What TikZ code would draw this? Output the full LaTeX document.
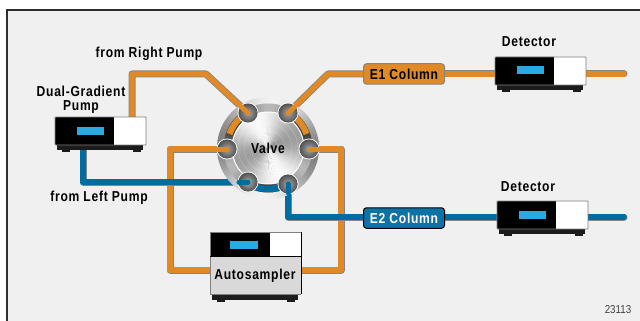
\documentclass[tikz,border=0pt]{standalone}
\usepackage{fontspec}
\setmainfont{Liberation Sans}[FakeStretch=0.84,LetterSpace=5]
\newfontfamily\numfont{Liberation Sans}[FakeStretch=0.85]
\definecolor{tuborange}{HTML}{DF8A26}
\definecolor{tubblue}{HTML}{006C9F}
\definecolor{tubedge}{HTML}{858585}
\definecolor{bgpanel}{HTML}{F0F0F0}
\definecolor{screen}{HTML}{29ABE2}
\definecolor{baseblk}{HTML}{1C1C1C}
\tikzset{
 x=1pt,y=-1pt,
 lbl/.style={font=\fontsize{14.4}{13.5}\selectfont\bfseries,text=black,inner sep=0,align=center},
 tubeo/.style={line join=round,line cap=round,draw=tubedge,line width=7pt,
   postaction={draw=tuborange,line width=5.4pt}},
 tubeb/.style={line join=round,line cap=round,draw=tubedge,line width=7pt,
   postaction={draw=tubblue,line width=5.4pt}},
 colbox/.style={rounded corners=3pt,draw=#1,line width=1pt,minimum width=81pt,minimum height=20.5pt,inner sep=0,
   font=\fontsize{14.4}{13.5}\selectfont\bfseries},
 inst/.pic={
  \fill[baseblk] (2,28)--(88,28)--(88,33)--(2,33)--cycle;
  \fill[baseblk] (7,33) rectangle (15,35);
  \fill[baseblk] (78,33) rectangle (86,35);
  \fill[black,rounded corners=1pt] (0,0) rectangle (60,28);
  \fill[white] (59,0) rectangle (91,28);
  \draw[gray,line width=.8pt,rounded corners=.5pt] (0,0) rectangle (91,28);
  \fill[screen] (21.5,9.5) rectangle (49,17.5);
 }
}
% brushed-metal disc: radius, base grey, swing, number of lobes, lobe angle (as seen)
\newcommand{\metaldisc}[5]{%
  \foreach \a in {0,4,...,356} {%
    \pgfmathsetmacro{\vv}{#2-#3*cos(#4*(-\a-#5))}%
    \fill[black!\vv] (c) -- +(\a:#1) arc[start angle=\a,delta angle=4.8,radius=#1] -- cycle;%
  }%
}
\begin{document}
\begin{tikzpicture}
\useasboundingbox (0,0) rectangle (640,321);
\fill[white] (0,0) rectangle (640,321);
\fill[bgpanel] (7,10) rectangle (640,321);
\draw[line width=2.4pt,draw=black!82] (7,321) -- (7,10) -- (640,10);

% port coordinates
\coordinate (p1) at (248,113);
\coordinate (p2) at (288,113);
\coordinate (p3) at (227,149);
\coordinate (p4) at (309,149);
\coordinate (p5) at (248,182);
\coordinate (p6) at (288,184);
\coordinate (c) at (268,148);

% tubes behind
\coordinate (pumpT) at (132,118);
\coordinate (pumpB) at (83,148);
\coordinate (asL) at (212,270);
\coordinate (asR) at (300,270);
\coordinate (e1a) at (365,74);
\coordinate (e2a) at (365,217);
\draw[tubeo] (asL) -- (170,270) -- (170,149) -- (p3);
\draw[tubeb] (pumpB) -- (83,182) -- (p5);
\draw[tubeo] (pumpT) -- (132,74) -- (206,74) -- (p1);
\draw[tubeo] (asR) -- (341,270) -- (341,149) -- (p4);
\draw[tubeo] (p2) -- (328,74) -- (e1a);
\draw[tubeb] (p6) -- (288,217) -- (e2a);
\draw[tubeo] (445,74) -- (497,74);
\draw[tubeo] (585,74) -- (624,74);
\draw[tubeb] (445,217) -- (499,217);
\draw[tubeb] (587,217) -- (624,217);

% valve body
\metaldisc{51}{27}{22}{2}{85}
\metaldisc{44.5}{52}{24}{3}{90}
% ring coloured segments
\draw[tuborange,line width=6.2pt] (c)+(-160:41) arc[start angle=-160,end angle=-124,radius=41];
\draw[tuborange,line width=6.2pt] (c)+(-56:41) arc[start angle=-56,end angle=-20,radius=41];
\draw[tubblue,line width=6.5pt] (c)+(114:41) arc[start angle=114,end angle=66,radius=41];
% inner disc
\metaldisc{36}{20}{18}{2}{114}
\draw[white,line width=1pt] (c) circle (36);
\foreach \r in {10,17,24,30} \draw[white,opacity=.25,line width=.4pt] (c) circle (\r);
% ports
\foreach \p in {p1,p2,p3,p4,p5,p6} {
  \fill[white] (\p) circle (10.5);
  \shade[inner color=black!35,outer color=black!68] (\p) circle (9.6);
}
% tube ends on top of ports
\draw[line cap=round,tuborange,line width=5pt] (p1) ++(-7,-6.5) -- (p1);
\draw[line cap=round,tuborange,line width=5pt] (p2) ++(7,-6.5) -- (p2);
\draw[line cap=round,tuborange,line width=5pt] (p3) ++(-9,0) -- (p3);
\draw[line cap=round,tuborange,line width=5pt] (p4) ++(9,0) -- (p4);
\draw[line cap=round,tubblue,line width=5pt] (p5) ++(-9,0) -- (p5);
\draw[line cap=round,tubblue,line width=5pt] (p6) ++(0,9) -- (p6);
\node[lbl] (valve) at (268,148) {Valve};

% columns
\node[colbox=tubedge,fill=tuborange,text=black] (e1) at (404,74) {E1 Column};
\node[colbox=black,fill=tubblue!95!white,text=white] (e2) at (404,218) {E2 Column};

% instruments
\pic at (55,117) {inst};
\pic at (495,57) {inst};
\pic at (497,201) {inst};

% autosampler
\fill[baseblk] (212,293) rectangle (298,300);
\fill[baseblk] (217,300) rectangle (225,301.5);
\fill[baseblk] (287,300) rectangle (295,301.5);
\fill[black!15] (210,256) rectangle (301,294);
\fill[black] (210,232) rectangle (271,256);
\fill[white] (270,232) rectangle (301,256);
\draw[gray,line width=.8pt] (210,256) -- (210,232) -- (301,232);
\draw[black,line width=.8pt] (301,232) -- (301,294);
\draw[gray,line width=.8pt] (210,256) -- (210,294) -- (301,294);
\draw[black,line width=.8pt] (210,256) -- (301,256);
\fill[screen] (230,241) rectangle (258,249);
\node[lbl] (as) at (255,276) {Autosampler};

% labels
\node[lbl] (l1) at (149,54) {from Right Pump};
\node[lbl] (l2) at (81,100) {Dual-Gradient\\[0pt]Pump};
\node[lbl] (l3) at (99,197.5) {from Left Pump};
\node[lbl] (d1) at (529,41.5) {Detector};
\node[lbl] (d2) at (528,186.5) {Detector};
\node[inner sep=0,font=\numfont\fontsize{11.5}{11.5}\selectfont,text=black!75] (n) at (618,310) {23113};
\end{tikzpicture}
\end{document}
